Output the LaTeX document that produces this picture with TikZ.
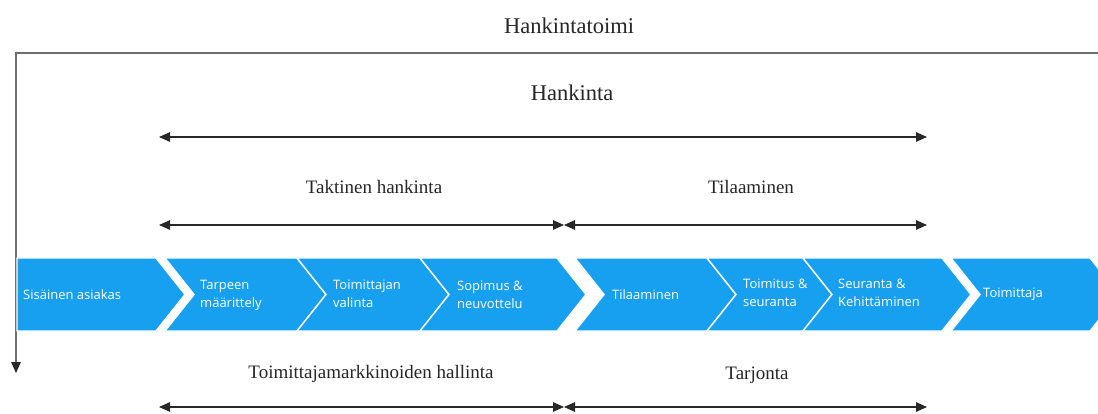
\documentclass[tikz,border=0pt]{standalone}
\usepackage{fontspec}
\setmainfont{Liberation Serif}
\newfontfamily\chevfont{Open Sans}
\usetikzlibrary{arrows.meta}

\definecolor{chevblue}{RGB}{24,160,240}
\definecolor{framegray}{RGB}{110,110,110}
\definecolor{arrowgray}{RGB}{40,40,40}

\tikzset{
  chev/.style={fill=chevblue, draw=white, line width=1.4pt, line join=miter},
  chevtext/.style={text=white, anchor=west, align=left, inner sep=0pt,
                   font=\chevfont\fontsize{13}{18}\selectfont},
  title/.style={anchor=base, inner sep=0pt, text=black!85},
  bigtitle/.style={title, font=\fontsize{22.5}{26}\selectfont},
  midtitle/.style={title, font=\fontsize{19}{23}\selectfont},
  span/.style={draw=arrowgray, line width=1.3pt,
               {Triangle[length=11pt,width=9.5pt]}-{Triangle[length=11pt,width=9.5pt]}},
  frame/.style={draw=framegray, line width=1.3pt, -{Triangle[length=11pt,width=9.5pt,color=arrowgray]}}
}

% chevron with a notched left side: left top x, right top x
\newcommand{\notchchev}[2]{%
  \path[chev] (#1,258) -- (#2,258) -- ({#2+29},294.5) -- (#2,331) -- (#1,331) -- ({#1+29},294.5) -- cycle;}

\begin{document}
\begin{tikzpicture}[x=1pt,y=-1pt]
\useasboundingbox (0,0) rectangle (1098,414);
\clip (0,0) rectangle (1098,414);

% overall frame with the downward arrow
\coordinate (frR) at (1100,53);
\coordinate (frL) at (16,53);
\coordinate (frD) at (16,373);
\draw[frame] (frR) -- (frL) -- (frD);
\node[bigtitle] (t-toimi) at (569,34) {Hankintatoimi};

% Hankinta span
\node[bigtitle] (t-hank) at (572,101) {Hankinta};
\coordinate (hL) at (159,137);
\coordinate (hR) at (927,137);
\draw[span] (hL) -- (hR);

% tactical purchasing / ordering spans
\node[midtitle] (t-takt) at (374,194) {Taktinen hankinta};
\node[midtitle] (t-tila) at (751,194) {Tilaaminen};
\coordinate (aL) at (159,225);
\coordinate (aM) at (564,225);
\coordinate (aR) at (927,225);
\draw[span] (aL) -- (aM);
\draw[span] (aM) -- (aR);

% process chevrons
\path[chev] (17,258) -- (156,258) -- (185,294.5) -- (156,331) -- (17,331) -- cycle;
\notchchev{165}{297}
\notchchev{297}{420}
\notchchev{420}{557}
\notchchev{575}{707}
\notchchev{707}{803}
\notchchev{803}{942}
\notchchev{951}{1090}

\node[chevtext] (c1) at (23,294.5) {Sisäinen asiakas};
\node[chevtext] (c2) at (200,295) {Tarpeen\\määrittely};
\node[chevtext] (c3) at (333,294) {Toimittajan\\valinta};
\node[chevtext] (c4) at (457,295) {Sopimus \&\\neuvottelu};
\node[chevtext] (c5) at (612,294.5) {Tilaaminen};
\node[chevtext] (c6) at (743,293) {Toimitus \&\\seuranta};
\node[chevtext] (c7) at (838,293) {Seuranta \&\\Kehittäminen};
\node[chevtext] (c8) at (983,294.5) {Toimittaja};

% supplier market / supply spans
\node[midtitle] (t-mark) at (371,378) {Toimittajamarkkinoiden hallinta};
\node[midtitle] (t-tarj) at (757,379) {Tarjonta};
\coordinate (bL) at (159,407);
\coordinate (bM) at (564,407);
\coordinate (bR) at (927,407);
\draw[span] (bL) -- (bM);
\draw[span] (bM) -- (bR);
\end{tikzpicture}
\end{document}
